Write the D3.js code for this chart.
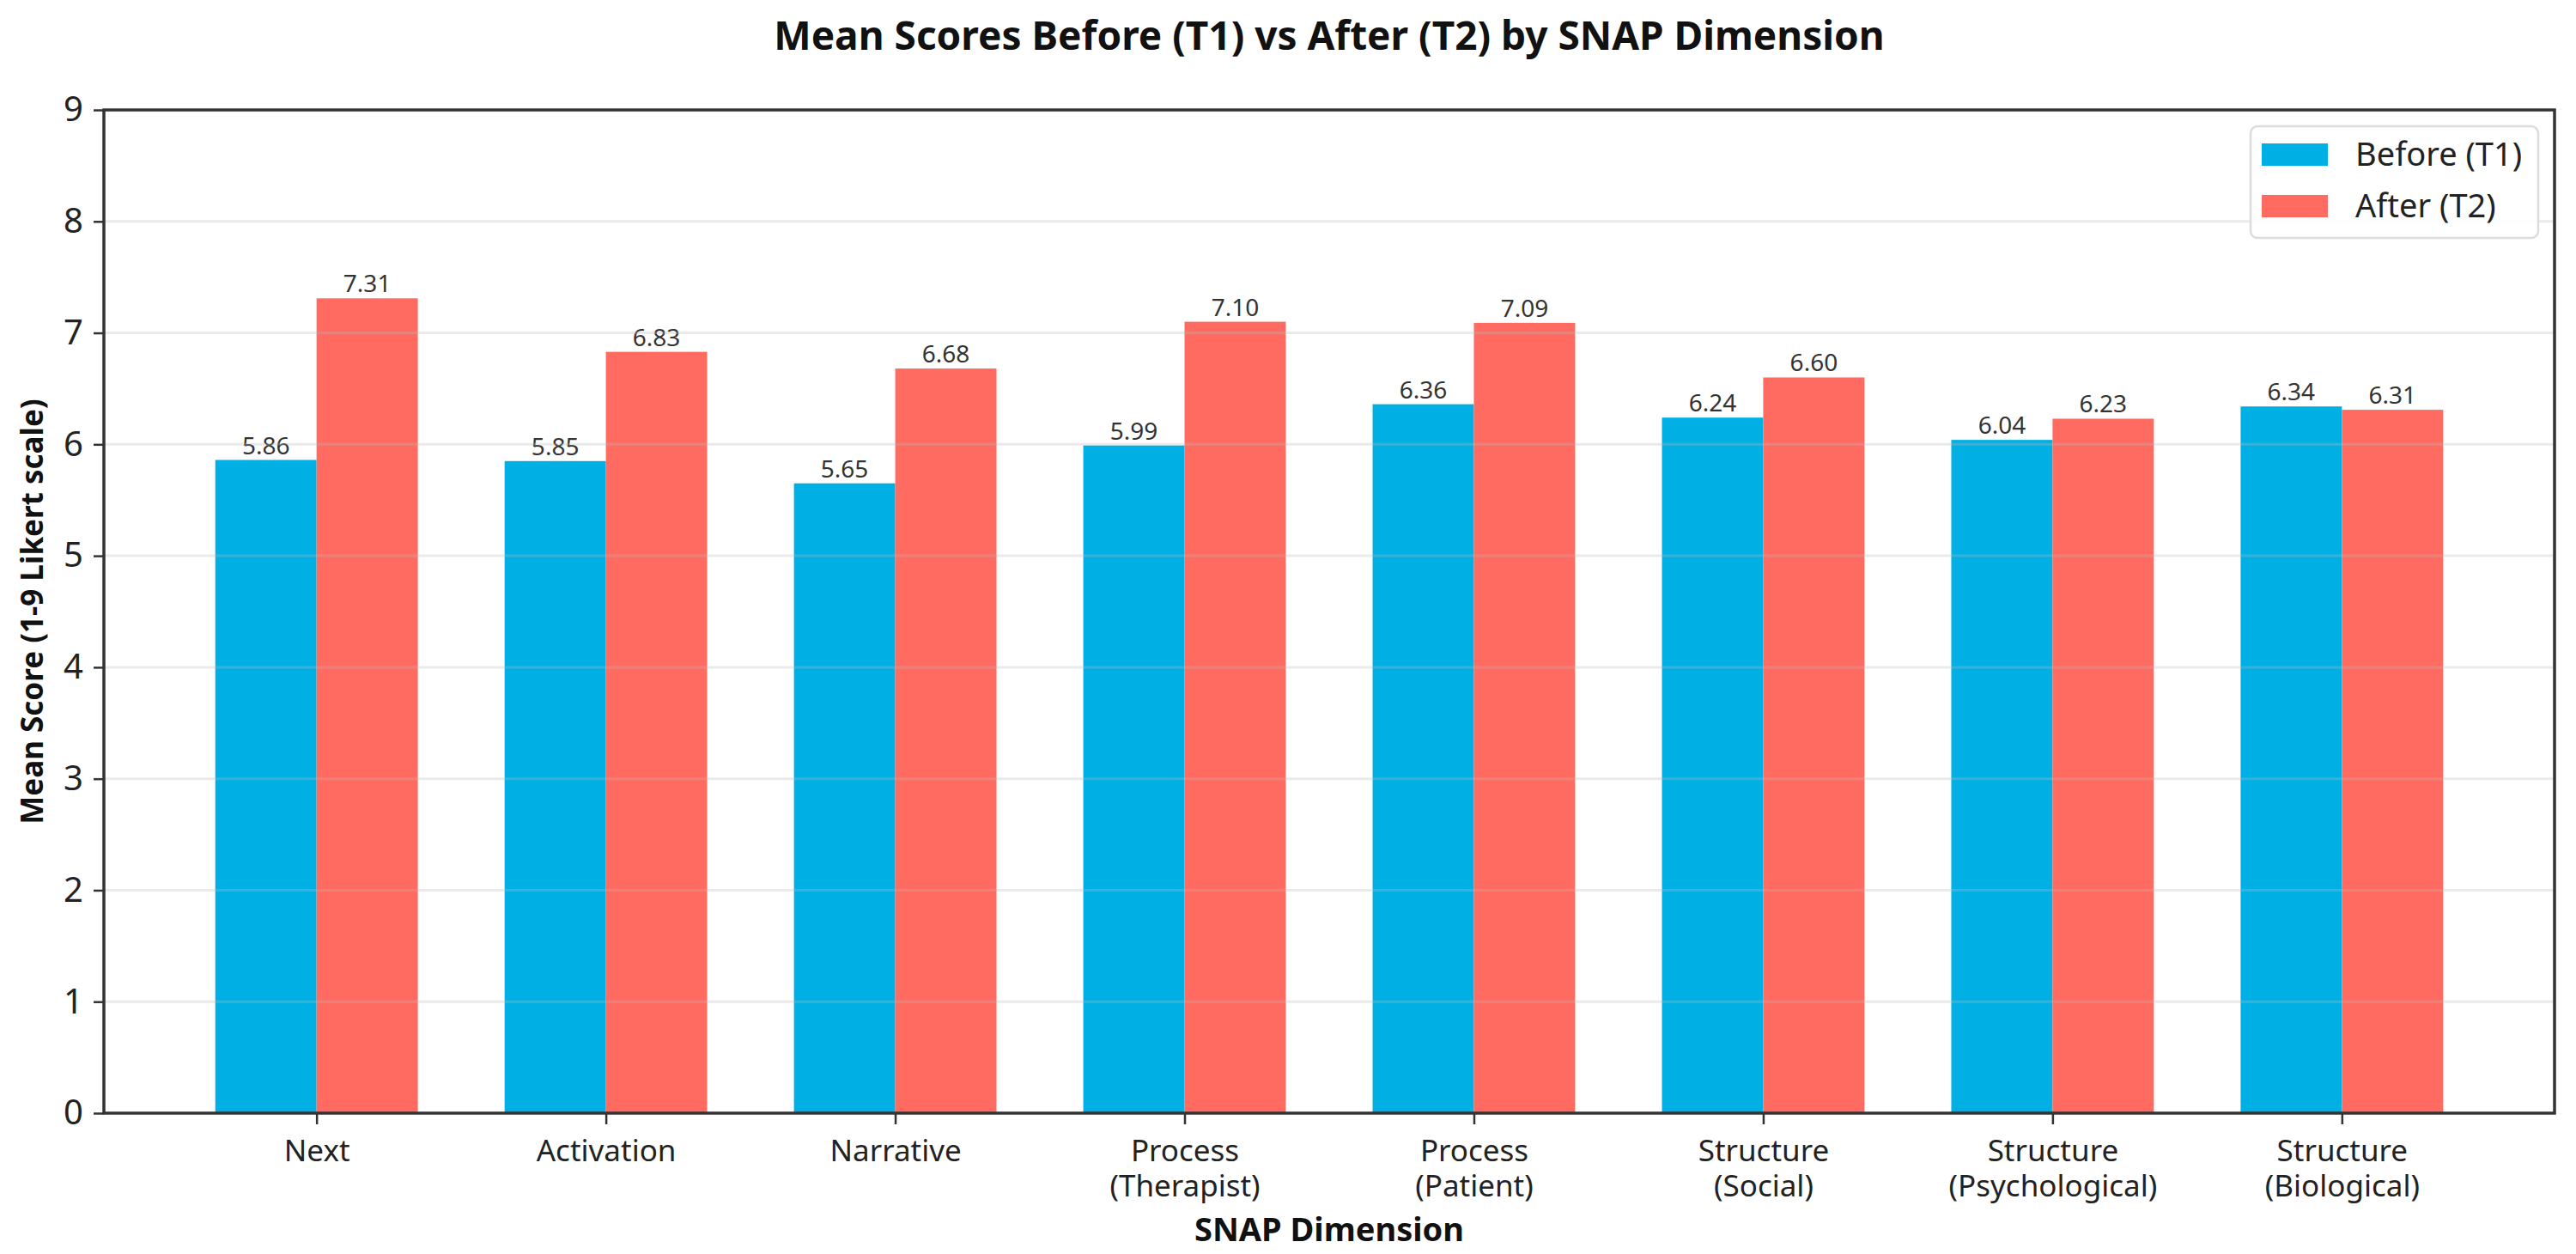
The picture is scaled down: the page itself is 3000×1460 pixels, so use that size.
<!DOCTYPE html>
<html>
<head>
<meta charset="utf-8">
<script src="https://cdn.jsdelivr.net/npm/d3@7"></script>
<style>
  html, body { margin: 0; padding: 0; background: #fff; }
  svg { display: block; font-family: "Noto Sans", sans-serif; }
</style>
</head>
<body>
<div id="chart"></div>
<script>
// data
const categories = [
  ["Next"], ["Activation"], ["Narrative"],
  ["Process", "(Therapist)"], ["Process", "(Patient)"],
  ["Structure", "(Social)"], ["Structure", "(Psychological)"], ["Structure", "(Biological)"]
];
const before = [5.86, 5.85, 5.65, 5.99, 6.36, 6.24, 6.04, 6.34];
const after = [7.31, 6.83, 6.68, 7.10, 7.09, 6.60, 6.23, 6.31];
const seriesNames = ["Before (T1)", "After (T2)"];
const seriesColors = ["#00afe4", "#ff6b60"];
const yTicks = [0, 1, 2, 3, 4, 5, 6, 7, 8, 9];

const width = 3000, height = 1460;
const margin = { top: 128, right: 25, bottom: 164, left: 121 };
const barW = 0.35;

const svg = d3.select("#chart").append("svg")
  .attr("width", width)
  .attr("height", height);

// matplotlib-style x limits: bar extent plus 5% margins
const lo = -barW, hi = categories.length - 1 + barW;
const pad = (hi - lo) * 0.05;
const x = d3.scaleLinear()
  .domain([lo - pad, hi + pad])
  .range([margin.left, width - margin.right]);
const y = d3.scaleLinear()
  .domain([0, 9])
  .range([height - margin.bottom, margin.top]);

// bars
const series = [before, after];
series.forEach((vals, s) => {
  svg.append("g")
    .selectAll("rect")
    .data(vals)
    .join("rect")
    .attr("x", (d, i) => x(i + (s === 0 ? -barW : 0)))
    .attr("width", x(barW) - x(0))
    .attr("y", d => y(d))
    .attr("height", d => y(0) - y(d))
    .attr("fill", seriesColors[s]);

  svg.append("g")
    .selectAll("text")
    .data(vals)
    .join("text")
    .attr("x", (d, i) => x(i + (s === 0 ? -barW / 2 : barW / 2)))
    .attr("y", d => y(d) - 7)
    .attr("text-anchor", "middle")
    .attr("font-size", 28)
    .attr("fill", "#333")
    .text(d => d.toFixed(2));
});

// grid on top, faint
svg.append("g")
  .selectAll("line")
  .data(yTicks.slice(1, -1))
  .join("line")
  .attr("x1", x.range()[0])
  .attr("x2", x.range()[1])
  .attr("y1", d => y(d))
  .attr("y2", d => y(d))
  .attr("stroke", "#b8b8b8")
  .attr("stroke-opacity", 0.3)
  .attr("stroke-width", 3);

// y axis
const yAxis = svg.append("g")
  .attr("transform", `translate(${margin.left},0)`)
  .call(d3.axisLeft(y).tickValues(yTicks).tickFormat(d3.format("d")).tickSize(12).tickPadding(12));
yAxis.select(".domain").remove();
yAxis.selectAll(".tick line").attr("stroke", "#333").attr("stroke-width", 2.5);
yAxis.selectAll(".tick text")
  .attr("font-size", 40)
  .attr("fill", "#222")
  .attr("font-family", "Noto Sans, sans-serif");

// x axis
const xAxis = svg.append("g")
  .attr("transform", `translate(0,${height - margin.bottom})`)
  .call(d3.axisBottom(x).tickValues(d3.range(categories.length)).tickSize(13).tickFormat(""));
xAxis.select(".domain").remove();
xAxis.selectAll(".tick line").attr("stroke", "#333").attr("stroke-width", 2.5);
xAxis.selectAll(".tick")
  .append("text")
  .attr("text-anchor", "middle")
  .attr("font-size", 35)
  .attr("fill", "#222")
  .attr("font-family", "Noto Sans, sans-serif")
  .selectAll("tspan")
  .data((d, i) => categories[i])
  .join("tspan")
  .attr("x", 0)
  .attr("y", (d, j) => 56 + j * 41)
  .text(d => d);

// frame
svg.append("rect")
  .attr("x", x.range()[0])
  .attr("y", margin.top)
  .attr("width", x.range()[1] - x.range()[0])
  .attr("height", y(0) - margin.top)
  .attr("fill", "none")
  .attr("stroke", "#333")
  .attr("stroke-width", 3.5);

// titles
svg.append("text")
  .attr("x", (x.range()[0] + x.range()[1]) / 2)
  .attr("y", 58)
  .attr("text-anchor", "middle")
  .attr("font-size", 46)
  .attr("font-weight", "bold")
  .attr("fill", "#111")
  .text("Mean Scores Before (T1) vs After (T2) by SNAP Dimension");

svg.append("text")
  .attr("x", (x.range()[0] + x.range()[1]) / 2)
  .attr("y", 1445)
  .attr("text-anchor", "middle")
  .attr("font-size", 38)
  .attr("font-weight", "bold")
  .attr("fill", "#111")
  .text("SNAP Dimension");

svg.append("text")
  .attr("transform", `translate(50,${(margin.top + y(0)) / 2}) rotate(-90)`)
  .attr("text-anchor", "middle")
  .attr("font-size", 35)
  .attr("font-weight", "bold")
  .attr("fill", "#111")
  .text("Mean Score (1-9 Likert scale)");

// legend
const legend = svg.append("g").attr("transform", "translate(2621,147)");
legend.append("rect")
  .attr("width", 335)
  .attr("height", 130)
  .attr("rx", 8)
  .attr("fill", "#fff")
  .attr("fill-opacity", 0.85)
  .attr("stroke", "#dcdcdc")
  .attr("stroke-width", 2.5);
seriesNames.forEach((name, i) => {
  legend.append("rect")
    .attr("x", 13)
    .attr("y", 20 + i * 60)
    .attr("width", 77)
    .attr("height", 26)
    .attr("fill", seriesColors[i]);
  legend.append("text")
    .attr("x", 122)
    .attr("y", 33 + i * 60)
    .attr("dy", "0.35em")
    .attr("font-size", 38)
    .attr("fill", "#222")
    .text(name);
});
</script>
</body>
</html>
